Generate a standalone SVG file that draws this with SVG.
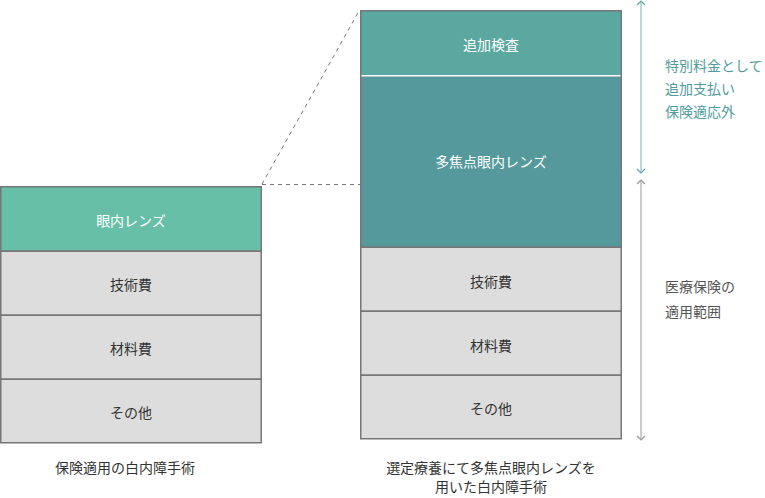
<svg xmlns="http://www.w3.org/2000/svg" width="765" height="498" viewBox="0 0 765 498">
  <style>
    text { font-family: "Noto Sans CJK JP", "Noto Sans", sans-serif; font-size: 14px; }
    .c { text-anchor: middle; }
    .w { fill: #ffffff; }
    .d { fill: #333333; }
    .g { fill: #dddddd; stroke: #777777; stroke-width: 1.5; }
    .tl { fill: #4f9c9c; }
    .gl { fill: #555555; }
  </style>
  <defs>
    <marker id="ht" viewBox="0 0 10 10" refX="9" refY="5" markerWidth="10" markerHeight="10" markerUnits="userSpaceOnUse" orient="auto-start-reverse">
      <path d="M5,1 L9,5 L5,9" fill="none" stroke="#5fa8aa" stroke-width="1.2"/>
    </marker>
    <marker id="hg" viewBox="0 0 10 10" refX="9" refY="5" markerWidth="10" markerHeight="10" markerUnits="userSpaceOnUse" orient="auto-start-reverse">
      <path d="M5,1 L9,5 L5,9" fill="none" stroke="#999999" stroke-width="1.2"/>
    </marker>
  </defs>

  <g id="connectors">
    <line x1="262" y1="184.5" x2="360" y2="184.5" stroke="#777777" stroke-width="1" stroke-dasharray="4 4"/>
    <line x1="262" y1="184" x2="359" y2="11" stroke="#777777" stroke-width="1" stroke-dasharray="4 4"/>
    <line x1="641" y1="1" x2="641" y2="173" stroke="#9fcccd" stroke-width="1.5" marker-start="url(#ht)" marker-end="url(#ht)"/>
    <line x1="641" y1="180" x2="641" y2="440" stroke="#bbbbbb" stroke-width="1.5" marker-start="url(#hg)" marker-end="url(#hg)"/>
  </g>

  <g id="left-stack">
    <g id="l-lens">
      <rect x="0.75" y="186.75" width="260.5" height="64.5" fill="#66bfa6" stroke="#777777" stroke-width="1.5"/>
      <text class="c w" x="131" y="226">眼内レンズ</text>
    </g>
    <g id="l-tech">
      <rect class="g" x="0.75" y="251.25" width="260.5" height="64"/>
      <text class="c d" x="131" y="290">技術費</text>
    </g>
    <g id="l-mat">
      <rect class="g" x="0.75" y="315.25" width="260.5" height="64"/>
      <text class="c d" x="131" y="354">材料費</text>
    </g>
    <g id="l-other">
      <rect class="g" x="0.75" y="379.25" width="260.5" height="63.5"/>
      <text class="c d" x="131" y="418">その他</text>
    </g>
    <text id="l-caption" class="c d" x="125" y="473">保険適用の白内障手術</text>
  </g>

  <g id="right-stack">
    <g id="r-exam">
      <rect x="360.75" y="10.75" width="260.5" height="65" fill="#5aa8a0" stroke="#777777" stroke-width="1.5"/>
      <text class="c w" x="491" y="50">追加検査</text>
    </g>
    <g id="r-lens">
      <rect x="360.75" y="75.75" width="260.5" height="171.5" fill="#55999c" stroke="#777777" stroke-width="1.5"/>
      <line x1="361.5" y1="75.75" x2="620.5" y2="75.75" stroke="#ffffff" stroke-width="1.5"/>
      <text class="c w" x="491" y="167">多焦点眼内レンズ</text>
    </g>
    <g id="r-tech">
      <rect class="g" x="360.75" y="247.25" width="260.5" height="64"/>
      <text class="c d" x="491" y="287">技術費</text>
    </g>
    <g id="r-mat">
      <rect class="g" x="360.75" y="311.25" width="260.5" height="64"/>
      <text class="c d" x="491" y="351">材料費</text>
    </g>
    <g id="r-other">
      <rect class="g" x="360.75" y="375.25" width="260.5" height="63.5"/>
      <text class="c d" x="491" y="414">その他</text>
    </g>
    <text id="r-caption" class="c d" x="491" y="473">選定療養にて多焦点眼内レンズを<tspan x="491" y="492">用いた白内障手術</tspan></text>
  </g>

  <g id="label-extra">
    <text class="tl" x="665" y="71">特別料金として</text>
    <text class="tl" x="665" y="94">追加支払い</text>
    <text class="tl" x="665" y="117">保険適応外</text>
  </g>
  <g id="label-insured">
    <text class="gl" x="665" y="292">医療保険の</text>
    <text class="gl" x="665" y="317">適用範囲</text>
  </g>
</svg>
